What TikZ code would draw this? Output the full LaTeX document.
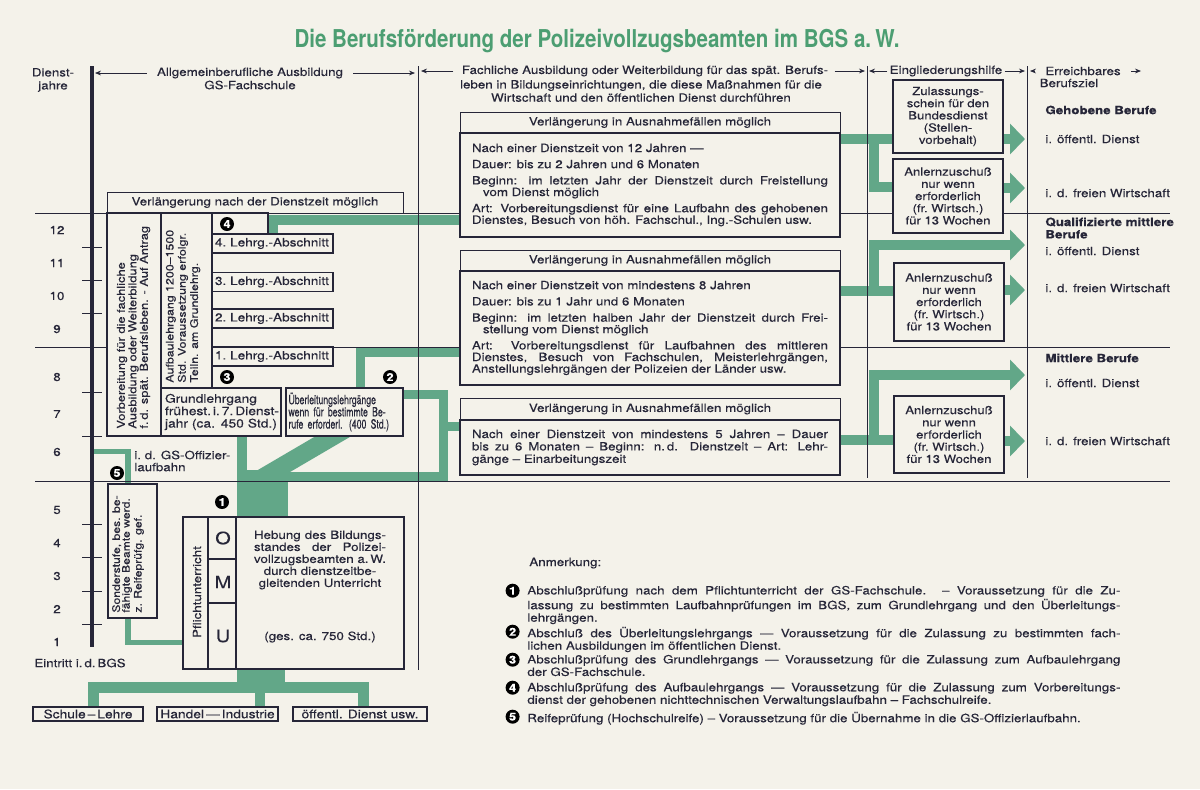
\documentclass[tikz,border=0pt]{standalone}
\usepackage{fontspec}
\setmainfont{TeX Gyre Heros}[FakeStretch=1.17, FakeBold=0.3]
\newfontfamily\titlefont{TeX Gyre Heros}[FakeStretch=0.835]
\newfontfamily\condfont{TeX Gyre Heros}[FakeStretch=0.68, FakeBold=0.3]
\usepackage{tikz}
\usetikzlibrary{arrows.meta, positioning}
\setlength{\parindent}{0pt}
\hyphenpenalty=10000
\exhyphenpenalty=10000
\definecolor{paper}{RGB}{244,242,234}
\definecolor{ink}{RGB}{38,38,56}
\definecolor{bgsgreen}{RGB}{98,167,136}
\definecolor{titlegreen}{RGB}{76,158,114}
\newcommand{\bgstxt}{\fontsize{5.7}{5.8}\selectfont}
\newcommand{\bpar}{\par\vspace{2.3pt}\hangindent=5.5pt\hangafter=1}
\newcommand{\anltext}{Anlernzuschuß\\nur wenn\\erforderlich\\(fr.~Wirtsch.)\\für 13 Wochen}
\newcommand{\fullline}[1]{\makebox[66pt][s]{#1}}
\pgfdeclarelayer{paperlayer}
\pgfdeclarelayer{greenlayer}
\pgfsetlayers{paperlayer,greenlayer,main}

\tikzstyle{box}       = [rectangle, draw=ink, line width=0.8pt, fill=paper, inner sep=0pt]
\tikzstyle{headbox}   = [rectangle, draw=ink, line width=0.5pt, fill=paper, inner sep=0pt]
\tikzstyle{body}      = [box, align=justify, text width=178pt, inner xsep=6pt, minimum width=190pt]
\tikzstyle{eingl}     = [box, align=center, minimum width=55pt, font=\fontsize{5.6}{6.1}\selectfont]
\tikzstyle{num}       = [circle, fill=black, text=white, inner sep=0pt, minimum size=7pt, font=\fontsize{5.4}{5.4}\selectfont\bfseries]
\tikzstyle{band}      = [draw=bgsgreen, line width=5pt]
\tikzstyle{bandarrow} = [band, -{Triangle[length=7.5pt,width=15pt]}]
\tikzstyle{hdrarrow}  = [draw=ink, line width=0.4pt, -{Stealth[length=3pt,width=2.4pt]}]
\tikzstyle{rule}      = [draw=ink, line width=0.45pt]
\tikzstyle{boxline}   = [draw=ink, line width=0.8pt]
\tikzstyle{ziel}      = [anchor=west, inner sep=0pt]
\tikzstyle{anmitem}   = [anchor=north west, inner sep=0pt, align=justify, text width=296.5pt, font=\fontsize{5.7}{6.25}\selectfont]

\begin{document}
\begin{tikzpicture}[x=0.5pt, y=-0.5pt, font=\bgstxt, text=ink]

\begin{pgfonlayer}{paperlayer}
  \fill[paper] (0,0) rectangle (1200,789);
\end{pgfonlayer}
\useasboundingbox (0,0) rectangle (1200,789);

% ===============================
% 1. TITLE AND HEADINGS
% ===============================
\node[font=\titlefont\fontsize{12.3}{13}\selectfont\bfseries, text=titlegreen] (title) at (597,41)
  {Die Berufsförderung der Polizeivollzugsbeamten im BGS a.\,W.};

\coordinate (axtop) at (92,66);   \coordinate (axbot) at (92,647);
\coordinate (s1top) at (418,66);  \coordinate (s1bot) at (418,670);
\coordinate (s2top) at (867,66);  \coordinate (s2bot) at (867,478);
\coordinate (s3top) at (1027,66); \coordinate (s3bot) at (1027,478);

\node[align=center, font=\fontsize{5.7}{6.5}\selectfont] (hdrjahre) at (53,80) {Dienst-\\jahre};
\node[inner sep=1pt] (hdrgs) at (250,73) {Allgemeinberufliche Ausbildung};
\node[inner sep=1pt] (hdrgs2) at (250,85) {GS-Fachschule};
\node[inner sep=1pt] (hdrfach) at (645,71) {Fachliche Ausbildung oder Weiterbildung für das spät. Berufs-};
\node[inner sep=1pt, align=center, font=\fontsize{5.7}{6.6}\selectfont] (hdrfach2) at (641,91)
  {leben in Bildungseinrichtungen, die diese Maßnahmen für die\\Wirtschaft und den öffentlichen Dienst durchführen};
\node[inner sep=1pt] (hdreing) at (946,71) {Eingliederungshilfe};
\node[inner sep=1pt] (hdrziel) at (1083,71) {Erreichbares};
\node[inner sep=1pt] (hdrziel2) at (1069,83) {Berufsziel};
\coordinate (zielend) at (1141,71);

\draw[hdrarrow] ([xshift=-4pt]hdrgs.west) -- ([xshift=1.5pt]axtop |- hdrgs.west);
\draw[hdrarrow] ([xshift=4pt]hdrgs.east) -- ([xshift=-1.5pt]s1top |- hdrgs.east);
\draw[hdrarrow] ([xshift=-3pt]hdrfach.west) -- ([xshift=1.5pt]s1top |- hdrfach.west);
\draw[hdrarrow] ([xshift=2pt]hdrfach.east) -- ([xshift=-1pt]s2top |- hdrfach.east);
\draw[hdrarrow] (hdreing.west) -- ([xshift=1pt]s2top |- hdreing.west);
\draw[hdrarrow] (hdreing.east) -- ([xshift=-1pt]s3top |- hdreing.east);
\draw[hdrarrow] ([xshift=-4pt]hdrziel.west) -- ([xshift=1.5pt]s3top |- hdrziel.west);
\draw[hdrarrow] ([xshift=4pt]hdrziel.east) -- (zielend);

% ===============================
% 2. YEAR SCALE AND RULES
% ===============================
\foreach \yy in {213,347,481}
  \draw[rule] (35,\yy) -- (1170,\yy);
\foreach \yy in {247,280,313,392,436,524,557,591,624}
  \draw[rule] (82,\yy) -- (102,\yy);
\draw[line width=2pt, draw=ink] (axtop) -- (axbot);
\draw[rule] (s1top) -- (s1bot);
\draw[rule] (s2top) -- (s2bot);
\draw[rule] (s3top) -- (s3bot);

\foreach \yr/\yy in {12/230,11/263,10/296,9/329,8/377,7/414,6/452,5/510,4/543,3/576,2/609,1/642}
  \node (year\yr) at (57,\yy) {\yr};
\node[inner sep=0pt] (eintritt) at (80,663) {Eintritt i.\,d.\,BGS};

% ===============================
% 3. GS-FACHSCHULE (LEFT)
% ===============================
\node[headbox, minimum width=148pt, minimum height=10.5pt] (verldz) at (255,202.5) {Verlängerung nach der Dienstzeit möglich};
\node[box, minimum width=27pt, minimum height=111.5pt] (vorb) at (134,324.5) {};
\node[box, minimum width=25.5pt, minimum height=87.5pt] (aufbau) at (186.5,300.5) {};
\node[box, minimum width=28pt, minimum height=10.5pt] (cell4) at (240,223.5) {};
\foreach \n/\yy in {4/243.5,3/282,2/318.5,1/356.5}
  \node[box, text width=57.5pt, inner xsep=1.5pt, minimum height=9.5pt, align=left, font=\fontsize{5.8}{6}\selectfont] (lg\n) at (272.5,\yy) {\n.~Lehrg.-Abschnitt};

\node[rotate=90, anchor=west, align=left, inner sep=0pt, font=\fontsize{5.5}{5.75}\selectfont] (vorbtxt) at (133.5,429)
  {Vorbereitung für die fachliche\\Ausbildung oder Weiterbildung\\f.\,d. spät. Berufsleben. - Auf Antrag};
\node[rotate=90, anchor=west, align=left, inner sep=0pt, font=\fontsize{5.3}{5}\selectfont] (aufbautxt) at (183,383)
  {Aufbaulehrgang 1200--1500\\Std. Voraussetzung erfolgr.\\Teiln. am Grundlehrg.};

\node[box, text width=56pt, inner xsep=2pt, minimum height=24pt, align=left, font=\fontsize{5.9}{6.2}\selectfont] (grund) at (221,412)
  {Grundlehrgang\\frühest.\,i.\,7.\,Dienst-\\jahr (ca. 450 Std.)};
\node[box, text width=56pt, inner xsep=1.25pt, minimum height=24pt, align=left, font=\condfont\fontsize{6.4}{6.1}\selectfont] (ueber) at (344.5,412)
  {Überleitungslehrgänge\\wenn für bestimmte Be-\\rufe erforderl. (400 Std.)};

\node[anchor=west, align=left, inner sep=0pt, font=\fontsize{5.7}{6}\selectfont] (offz) at (134,461) {i.~d. GS-Offizier-\\laufbahn};

\node[box, minimum width=24.5pt, minimum height=67pt] (sonder) at (132.5,551) {};
\node[rotate=90, anchor=west, align=left, inner sep=0pt, font=\fontsize{5.2}{4.9}\selectfont] (sondertxt) at (128,613)
  {Sonderstufe, bes. be-\\fähigte Beamte werd.\\z. Reifeprüfg. gef.};

\node[box, minimum width=110.5pt, minimum height=76pt] (pflicht) at (293.5,593) {};
\draw[boxline] ([xshift=13pt]pflicht.north west) -- ([xshift=13pt]pflicht.south west);
\draw[boxline] ([xshift=27pt]pflicht.north west) -- ([xshift=27pt]pflicht.south west);
\draw[boxline] ([xshift=13pt,yshift=-21.5pt]pflicht.north west) -- ++(14pt,0);
\draw[boxline] ([xshift=13pt,yshift=-43.5pt]pflicht.north west) -- ++(14pt,0);
\node[rotate=90] (pfltxt) at (197,592) {Pflichtunterricht};
\node[font=\fontsize{8.5}{9}\selectfont] (omuO) at (223,538) {O};
\node[font=\fontsize{8.5}{9}\selectfont] (omuM) at (223,582) {M};
\node[font=\fontsize{8.5}{9}\selectfont] (omuU) at (223,636) {U};
\node[align=center, font=\fontsize{5.7}{6}\selectfont] (hebung) at (320,560)
  {\fullline{Hebung des Bildungs-}\\\fullline{standes der Polizei-}\\\fullline{vollzugsbeamten a.\,W.}\\durch dienstzeitbe-\\gleitenden Unterricht};
\node (gesamt) at (320,637) {(ges. ca. 750 Std.)};

\node[box, minimum width=55pt, minimum height=7pt, font=\fontsize{5.9}{6}\selectfont] (schule) at (88,714) {Schule\,--\,Lehre};
\node[box, minimum width=60.5pt, minimum height=7pt, font=\fontsize{5.9}{6}\selectfont] (handel) at (217.5,714) {Handel\,---\,Industrie};
\node[box, minimum width=67pt, minimum height=7pt, font=\fontsize{5.9}{6}\selectfont] (oeff) at (360,714) {öffentl. Dienst usw.};

% ===============================
% 4. FACHLICHE AUSBILDUNG (MIDDLE)
% ===============================
\node[headbox, minimum width=190pt, minimum height=10.5pt] (mb1h) at (650,122.5) {Verlängerung in Ausnahmefällen möglich};
\node[body, minimum height=52pt] (mb1) at (650,185) {%
  Nach einer Dienstzeit von 12 Jahren —
  \bpar Dauer: bis zu 2 Jahren und 6 Monaten
  \bpar Beginn: im letzten Jahr der Dienstzeit durch Freistellung\linebreak vom Dienst möglich
  \bpar Art: Vorbereitungsdienst für eine Laufbahn des gehobenen\linebreak Dienstes, Besuch von höh. Fachschul., Ing.-Schulen usw.};

\node[headbox, minimum width=190pt, minimum height=10.5pt] (mb2h) at (650,260.5) {Verlängerung in Ausnahmefällen möglich};
\node[body, minimum height=57pt] (mb2) at (650,328) {%
  Nach einer Dienstzeit von mindestens 8 Jahren
  \bpar Dauer: bis zu 1 Jahr und 6 Monaten
  \bpar Beginn: im letzten halben Jahr der Dienstzeit durch Frei-\linebreak stellung vom Dienst möglich
  \bpar\parfillskip=0pt Art: Vorbereitungsdienst für Laufbahnen des mittleren\linebreak Dienstes, Besuch von Fachschulen, Meisterlehrgängen,\linebreak Anstellungslehrgängen der Polizeien der Länder usw.};

\node[headbox, minimum width=190pt, minimum height=11pt] (mb3h) at (650,409) {Verlängerung in Ausnahmefällen möglich};
\node[body, minimum height=27.5pt, font=\fontsize{5.7}{6.2}\selectfont] (mb3) at (650,447.5) {%
  Nach einer Dienstzeit von mindestens 5 Jahren -- Dauer\linebreak bis zu 6 Monaten -- Beginn: n.\,d. Dienstzeit -- Art: Lehr-\linebreak gänge -- Einarbeitungszeit};

% ===============================
% 5. EINGLIEDERUNGSHILFE AND BERUFSZIEL (RIGHT)
% ===============================
\node[eingl, minimum height=36.5pt] (zul) at (948,116.5) {Zulassungs-\\schein für den\\Bundesdienst\\(Stellen-\\vorbehalt)};
\node[eingl, minimum height=37pt] (anl1) at (948,196) {\anltext};
\node[eingl, minimum height=39pt] (anl2) at (949,302) {\anltext};
\node[eingl, minimum height=38.5pt] (anl3) at (949,434.5) {\anltext};

\coordinate (g1) at (1025,139);
\coordinate (g2) at (1025,188);
\coordinate (g3) at (1025,245);
\coordinate (g4) at (1025,290);
\coordinate (g5) at (1025,375);
\coordinate (g6) at (1025,441);

\node[ziel, font=\bgstxt\bfseries] (geh) at (1045,110) {Gehobene Berufe};
\node[ziel] (geh1) at (1045,139) {i. öffentl. Dienst};
\node[ziel] (geh2) at (1045,193) {i. d. freien Wirtschaft};
\node[ziel, align=left, font=\fontsize{5.7}{6.2}\selectfont\bfseries] (qual) at (1045,228) {Qualifizierte mittlere\\Berufe};
\node[ziel] (qual1) at (1045,251) {i. öffentl. Dienst};
\node[ziel] (qual2) at (1045,288) {i. d. freien Wirtschaft};
\node[ziel, font=\bgstxt\bfseries] (mitt) at (1045,358) {Mittlere Berufe};
\node[ziel] (mitt1) at (1045,383) {i. öffentl. Dienst};
\node[ziel] (mitt2) at (1045,441) {i. d. freien Wirtschaft};

% ===============================
% 6. NUMBERED MARKS AND NOTES
% ===============================
\node[num] (n1) at (222,502) {1};
\node[num] (n2) at (390,377) {2};
\node[num] (n3) at (227,377) {3};
\node[num] (n4) at (227,224) {4};
\node[num] (n5) at (117,473) {5};

\node[anchor=base west, inner sep=0pt] (anm) at (529,566) {Anmerkung:};
\node[anmitem] (anm1) at (527,585.5) {Abschlußprüfung nach dem Pflichtunterricht der GS-Fachschule. -- Voraussetzung für die Zu-\linebreak lassung zu bestimmten Laufbahnprüfungen im BGS, zum Grundlehrgang und den Überleitungs-\linebreak lehrgängen.};
\node[anmitem] (anm2) at (527,626.5) {Abschluß des Überleitungslehrgangs — Voraussetzung für die Zulassung zu bestimmten fach-\linebreak lichen Ausbildungen im öffentlichen Dienst.};
\node[anmitem] (anm3) at (527,654.5) {Abschlußprüfung des Grundlehrgangs — Voraussetzung für die Zulassung zum Aufbaulehrgang\linebreak der GS-Fachschule.};
\node[anmitem] (anm4) at (527,682.5) {Abschlußprüfung des Aufbaulehrgangs — Voraussetzung für die Zulassung zum Vorbereitungs-\linebreak dienst der gehobenen nichttechnischen Verwaltungslaufbahn -- Fachschulreife.};
\node[anmitem] (anm5) at (527,711.5) {Reifeprüfung (Hochschulreife) -- Voraussetzung für die Übernahme in die GS-Offizierlaufbahn.};
\foreach \i in {1,...,5}
  \node[num, left=3.5pt of anm\i.north west, yshift=-2.6pt] (anmnum\i) {\i};

% ===============================
% 7. CONNECTIONS (GREEN BANDS)
% ===============================
\begin{pgfonlayer}{greenlayer}
  % Pflichtunterricht to the sources
  \draw[band, line width=24pt] (pflicht.south -| 261,0) -- (261,688);
  \draw[band, line width=5.5pt] (schule.north -| 93,0) |- (363,687.5) -- (oeff.north -| 363,0);
  \draw[band] (handel.north -| 260,0) -- (260,688);

  % Pflichtunterricht upwards
  \draw[band, line width=25.5pt] (pflicht.north -| 262.5,0) -- (262.5,470);
  \draw[band] (grund.south -| 242,0) -- (242,474);
  \draw[band, line width=9pt] (262,478) -- (361,420);
  \draw[band, line width=4.5pt] (ueber.east |- 0,394) -| (443,476) -- (270,476);
  \draw[band, line width=4.5pt] (443,426) -- (mb3.west |- 0,426);
  \draw[band, line width=4.5pt] (ueber.north -| 360,0) |- (mb2.west |- 0,352.5);
  \draw[band] (lg4.north -| 273,0) |- (mb1.west |- 0,220);
  \draw[band, line width=2.8pt] (axtop |- 0,451.5) -| (128,642.5) -- (pflicht.west |- 0,642.5);

  % middle boxes to Eingliederungshilfe and Berufsziel
  \draw[band] (mb1.east |- 0,139) -- (zul.west |- 0,139);
  \draw[band] (874,139) |- (anl1.west |- 0,187);
  \draw[bandarrow] (zul.east |- 0,139) -- (g1);
  \draw[bandarrow] (anl1.east |- 0,188) -- (g2);
  \draw[band] (mb2.east |- 0,291) -- (anl2.west |- 0,291);
  \draw[bandarrow] (874,291) |- (g3);
  \draw[bandarrow] (anl2.east |- 0,290) -- (g4);
  \draw[band] (mb3.east |- 0,440) -- (anl3.west |- 0,440);
  \draw[bandarrow] (874,440) |- (g5);
  \draw[bandarrow] (anl3.east |- 0,441) -- (g6);
\end{pgfonlayer}

\end{tikzpicture}
\end{document}
